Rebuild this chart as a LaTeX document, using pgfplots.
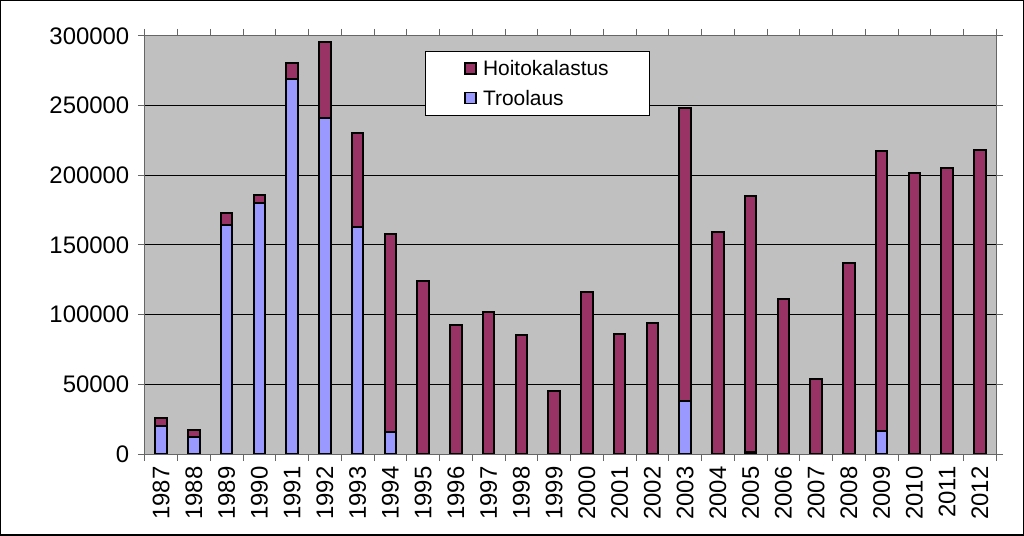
\documentclass[border=0pt]{standalone}
\usepackage{pgfplots}
\usepackage{pgfplotstable}
\usepackage{fontspec}
\setmainfont{Liberation Sans}
\pgfplotsset{compat=1.18}
\definecolor{troo}{HTML}{9999FF}
\definecolor{hoito}{HTML}{993366}
\definecolor{plotbg}{HTML}{C0C0C0}
\pgfplotstableread{
x year troolaus hoito
0 1987 20100 5600
1 1988 12000 5200
2 1989 163900 8800
3 1990 180000 5500
4 1991 269100 11300
5 1992 240700 54500
6 1993 163100 67300
7 1994 15600 142300
8 1995 0 124200
9 1996 0 92800
10 1997 0 101900
11 1998 0 85600
12 1999 0 45400
13 2000 0 116100
14 2001 0 86300
15 2002 0 94200
16 2003 38300 210000
17 2004 0 159100
18 2005 1500 183200
19 2006 0 111000
20 2007 0 54100
21 2008 0 137300
22 2009 16500 200700
23 2010 0 201700
24 2011 0 205000
25 2012 0 218000
}\datatable
\begin{document}
\begin{tikzpicture}
\begin{axis}[
  scale only axis,
  width=851bp, height=418bp,
  ybar stacked, bar width=11.5bp,
  xmin=-0.5, xmax=25.5,
  ymin=0, ymax=300000,
  ytick={0,50000,100000,150000,200000,250000,300000},
  scaled y ticks=false,
  yticklabel style={xshift=-5bp, /pgf/number format/fixed, /pgf/number format/1000 sep={}, /pgf/number format/assume math mode=true},
  xtick=data,
  xticklabels from table={\datatable}{year},
  xticklabel style={rotate=90, anchor=east, xshift=-2bp},
  major x tick style={draw=none},
  minor xtick={-0.5,0.5,...,25.5},
  tick align=outside,
  major tick length=7bp, minor tick length=7bp,
  tick style={draw=gray!80!black, line width=0.8bp},
  ymajorgrids,
  major grid style={black, line width=0.8bp},
  axis line style={draw=gray!80!black, line width=0.8bp},
  axis background/.style={fill=plotbg},
  tick label style={font=\fontsize{24}{28}\selectfont},
  every axis plot/.append style={draw=black, line width=2bp},
  reverse legend,
  legend cell align=left,
  legend style={at={(rel axis cs:0.329,0.964)}, anchor=north west, draw=black, fill=white,
    font=\fontsize{21}{24}\selectfont, inner xsep=39bp, inner ysep=7bp, row sep=9bp, line width=0.8bp},
  legend image code/.code={\draw[#1, line width=1.4bp] (0bp,-5.5bp) rectangle (11bp,5.5bp); \path[draw=none, fill=none] (0bp,0bp) -- (16bp,0bp);},
]
\addplot[fill=troo] table[x=x, y=troolaus] {\datatable};
\addplot[fill=hoito] table[x=x, y=hoito] {\datatable};
\legend{Troolaus, Hoitokalastus}
\end{axis}
\draw[black, line width=1.5bp] (-144bp,-81bp) rectangle (878bp,453bp);
\end{tikzpicture}
\end{document}
